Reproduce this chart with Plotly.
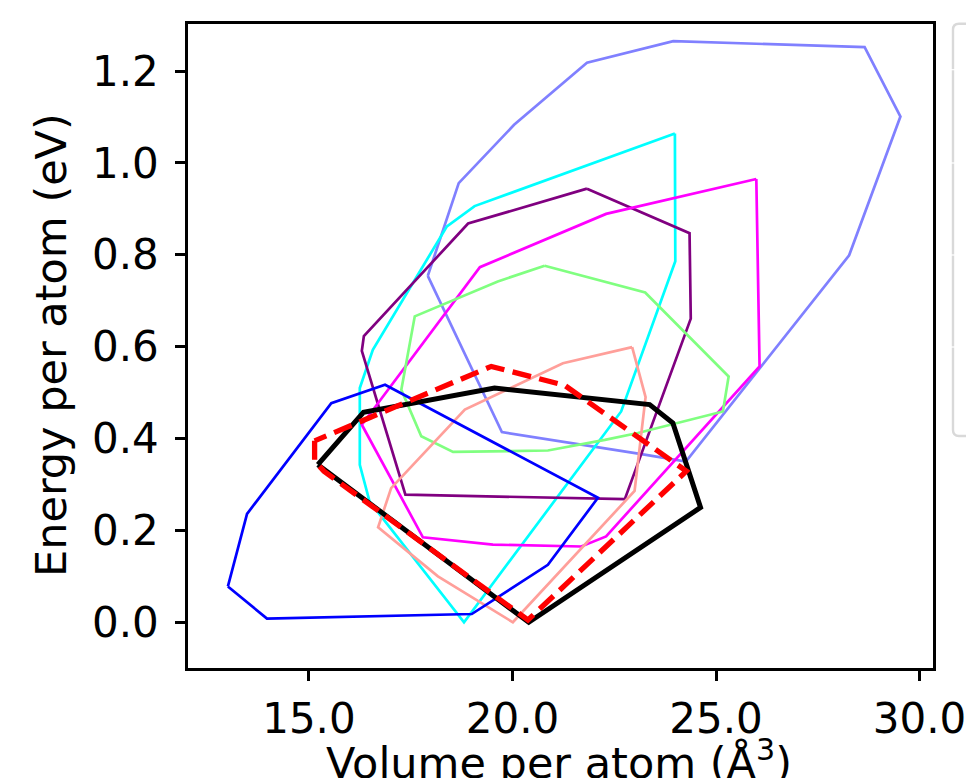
import plotly.graph_objects as go

# ---- data (volume per atom, energy per atom) ----
lslate_x = [17.92, 18.68, 20.04, 21.83, 23.95, 28.65, 29.53, 28.27, 24.26, 23.17, 19.74]
lslate_y = [0.754, 0.956, 1.083, 1.218, 1.265, 1.252, 1.101, 0.799, 0.350, 0.366, 0.414]

cyan_x = [23.99, 24.00, 22.67, 18.81, 16.49, 16.25, 16.25, 16.57, 18.39, 19.07]
cyan_y = [1.064, 0.786, 0.459, 0.000, 0.263, 0.343, 0.510, 0.593, 0.862, 0.906]

purple_x = [21.83, 24.35, 24.38, 22.76, 17.37, 16.30, 16.35, 18.91]
purple_y = [0.944, 0.847, 0.661, 0.268, 0.278, 0.591, 0.623, 0.868]

magenta_x = [25.99, 26.07, 22.30, 21.69, 19.52, 17.80, 16.30, 19.20, 22.30]
magenta_y = [0.965, 0.557, 0.187, 0.165, 0.169, 0.185, 0.430, 0.773, 0.889]

green_x = [20.79, 23.26, 25.31, 25.17, 23.08, 22.27, 20.87, 18.54, 17.76, 17.27, 17.60, 19.64]
green_y = [0.776, 0.718, 0.535, 0.459, 0.412, 0.397, 0.374, 0.371, 0.405, 0.506, 0.666, 0.742]

salmon_x = [22.94, 23.27, 23.00, 20.01, 18.17, 16.70, 17.02, 18.83, 21.24]
salmon_y = [0.599, 0.490, 0.286, 0.000, 0.100, 0.207, 0.292, 0.463, 0.564]

blue_x = [13.01, 13.97, 19.00, 20.87, 22.10, 16.87, 15.55, 13.48]
blue_y = [0.078, 0.008, 0.018, 0.125, 0.271, 0.517, 0.477, 0.236]

black_x = [15.22, 16.34, 19.56, 23.37, 23.94, 24.62, 20.40]
black_y = [0.343, 0.457, 0.510, 0.474, 0.434, 0.250, 0.000]

red_x = [15.14, 15.14, 15.37, 20.38, 24.27, 21.77, 21.28, 19.48]
red_y = [0.395, 0.351, 0.329, 0.005, 0.329, 0.487, 0.516, 0.557]

x_ticks = [15.0, 20.0, 25.0, 30.0]
y_ticks = [0.0, 0.2, 0.4, 0.6, 0.8, 1.0, 1.2]

FONT = "DejaVu Sans"


def closed(xs, ys):
    return list(xs) + [xs[0]], list(ys) + [ys[0]]


series = [
    (lslate_x, lslate_y, "#8080ff", 2.7, "solid"),
    (cyan_x, cyan_y, "#00ffff", 2.7, "solid"),
    (purple_x, purple_y, "#800080", 2.7, "solid"),
    (magenta_x, magenta_y, "#ff00ff", 2.7, "solid"),
    (green_x, green_y, "#80ff80", 2.7, "solid"),
    (salmon_x, salmon_y, "#ff9f9a", 2.7, "solid"),
    (blue_x, blue_y, "#0000ff", 2.7, "solid"),
    (black_x, black_y, "#000000", 5.0, "solid"),
    (red_x, red_y, "#ff0000", 5.3, "19px,8.5px"),
]

fig = go.Figure()
for xs, ys, col, w, dash in series:
    cx, cy = closed(xs, ys)
    fig.add_trace(go.Scatter(x=cx, y=cy, mode="lines",
                             line=dict(color=col, width=w, dash=dash),
                             showlegend=False, hoverinfo="skip"))

W, H = 974, 778
L, R, T, B = 180, 925, 16, 660


def px2paper(px, py):
    return (px - L) / (R - L), (B - py) / (B - T)


axis_common = dict(showgrid=False, zeroline=False, showline=True, mirror=True,
                   linecolor="black", linewidth=2.7, ticks="outside", ticklen=10,
                   tickwidth=2.7, tickcolor="black",
                   tickfont=dict(family=FONT, size=42, color="black"))

fig.update_xaxes(range=[12.03, 30.33], tickvals=x_ticks,
                 ticktext=[f"{v:.1f}" for v in x_ticks], ticklabelstandoff=2,
                 **axis_common)
fig.update_yaxes(range=[-0.0995, 1.3024], tickvals=y_ticks,
                 ticktext=[f"{v:.1f}" for v in y_ticks], ticklabelstandoff=8,
                 **axis_common)

# legend frame (partly outside the figure, entries cut off)
x0, y0 = px2paper(945, 15.7)
x1, y1 = px2paper(1000, 428)
rx, ry = 6 / (R - L), 6 / (B - T)
path = (f"M {x0 + rx} {y0} L {x1} {y0} L {x1} {y1} L {x0 + rx} {y1} "
        f"Q {x0} {y1} {x0} {y1 + ry} L {x0} {y0 - ry} Q {x0} {y0} {x0 + rx} {y0} Z")
shapes = [dict(type="path", path=path, xref="paper", yref="paper",
               line=dict(color="#d9d9d9", width=2.4), fillcolor="rgba(255,255,255,0.8)")]
for gy in [61.7, 155, 247, 339]:
    gx0, gyp = px2paper(942, gy)
    gx1, _ = px2paper(949, gy)
    shapes.append(dict(type="line", xref="paper", yref="paper", x0=gx0, x1=gx1,
                       y0=gyp, y1=gyp, line=dict(color="white", width=1.2)))

ax_x, ax_y = px2paper(551, 752)
ay_x, ay_y = px2paper(43, 337)
annotations = [
    dict(text="Volume per atom (Å<sup>3</sup>)", xref="paper", yref="paper",
         x=ax_x, y=ax_y, showarrow=False, xanchor="center", yanchor="middle",
         font=dict(family=FONT, size=43, color="black")),
    dict(text="Energy per atom (eV)", xref="paper", yref="paper",
         x=ay_x, y=ay_y, showarrow=False, xanchor="center", yanchor="middle",
         textangle=-90, font=dict(family=FONT, size=43, color="black")),
]

fig.update_layout(width=W, height=H, margin=dict(l=L, r=W - R, t=T, b=H - B, pad=0),
                  paper_bgcolor="white", plot_bgcolor="white",
                  shapes=shapes, annotations=annotations, showlegend=False)

fig.write_html("out.html")
